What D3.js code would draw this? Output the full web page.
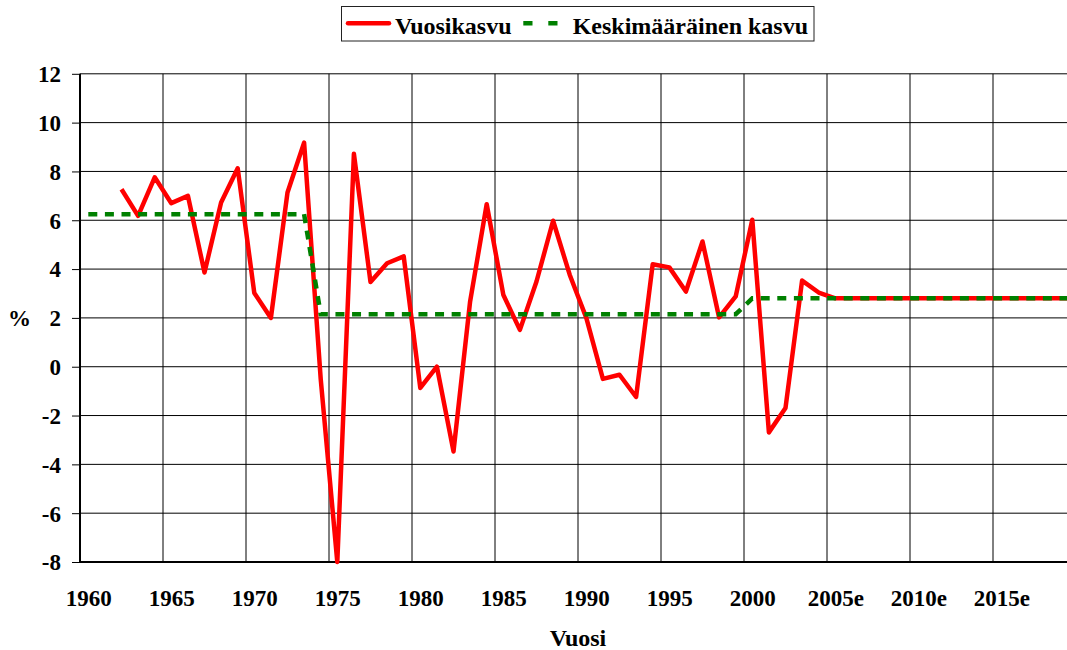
<!DOCTYPE html>
<html>
<head>
<meta charset="utf-8">
<script src="https://cdn.jsdelivr.net/npm/d3@7"></script>
<style>
  html, body { margin: 0; padding: 0; background: #fff; }
  svg { display: block; }
</style>
</head>
<body>
<svg id="chart" width="1067" height="650"></svg>
<script>
// ---- data ----
const growthYears = [1962,1963,1964,1965,1966,1967,1968,1969,1970,1971,1972,1973,1974,1975,1976,1977,1978,1979,
  1980,1981,1982,1983,1984,1985,1986,1987,1988,1989,1990,1991,1992,1993,1994,1995,1996,1997,1998,1999,
  2000,2001,2002,2003,2004,2005,2006,2007,2008,2009,2010,2011,2012,2013,2014,2015,2016,2017,2018,2019];
const growthValues = [7.27,6.18,7.76,6.70,7.00,3.86,6.73,8.13,3.02,2.00,7.14,9.18,-0.5,-8.0,8.72,3.47,4.24,4.52,
  -0.87,0.0,-3.47,2.67,6.66,2.95,1.51,3.49,5.98,3.77,2.0,-0.5,-0.33,-1.24,4.2,4.07,3.08,5.13,2.02,2.88,
  6.02,-2.69,-1.69,3.53,3.04,2.8,2.8,2.8,2.8,2.8,2.8,2.8,2.8,2.8,2.8,2.8,2.8,2.8,2.8,2.8];
const avgYears = [1960,1961,1962,1963,1964,1965,1966,1967,1968,1969,1970,1971,1972,1973,
  1974,1975,1976,1977,1978,1979,1980,1981,1982,1983,1984,1985,1986,1987,1988,1989,1990,1991,1992,1993,1994,1995,1996,1997,1998,1999,
  2000,2001,2002,2003,2004,2005,2006,2007,2008,2009,2010,2011,2012,2013,2014,2015,2016,2017,2018,2019];
const avgValues = [6.25,6.25,6.25,6.25,6.25,6.25,6.25,6.25,6.25,6.25,6.25,6.25,6.25,6.25,
  2.15,2.15,2.15,2.15,2.15,2.15,2.15,2.15,2.15,2.15,2.15,2.15,2.15,2.15,2.15,2.15,2.15,2.15,2.15,2.15,2.15,2.15,2.15,2.15,2.15,2.15,
  2.8,2.8,2.8,2.8,2.8,2.8,2.8,2.8,2.8,2.8,2.8,2.8,2.8,2.8,2.8,2.8,2.8,2.8,2.8,2.8];
const xTickYears = [1960,1965,1970,1975,1980,1985,1990,1995,2000,2005,2010,2015];
const xTickLabels = ["1960","1965","1970","1975","1980","1985","1990","1995","2000","2005e","2010e","2015e"];
const yTicks = [-8,-6,-4,-2,0,2,4,6,8,10,12];
const seriesNames = ["Vuosikasvu", "Keskimääräinen kasvu"];
const xTitle = "Vuosi";
const yTitle = "%";

// ---- layout ----
const FONT = "'Liberation Serif', 'DejaVu Serif', serif";
const svg = d3.select("#chart");
const pLeft = 80, pRight = 1076, pTop = 73.8, pBottom = 562;
const x = d3.scaleLinear().domain([1960, 2020]).range([pLeft, pRight]);
const y = d3.scaleLinear().domain([-8, 12]).range([pBottom, pTop]);
const cx = yr => x(yr + 0.5);

// horizontal gridlines
svg.append("g").selectAll("line").data(yTicks).join("line")
  .attr("x1", pLeft).attr("x2", pRight)
  .attr("y1", d => y(d)).attr("y2", d => y(d))
  .attr("stroke", "#000").attr("stroke-width", 1);

// vertical gridlines
svg.append("g").selectAll("line").data(xTickYears.slice(1)).join("line")
  .attr("x1", d => x(d)).attr("x2", d => x(d))
  .attr("y1", pTop).attr("y2", pBottom)
  .attr("stroke", "#000").attr("stroke-width", 1);

// y axis
const yAxis = svg.append("g").attr("transform", `translate(${pLeft},0)`)
  .call(d3.axisLeft(y).tickValues(yTicks).tickSize(8).tickPadding(11).tickFormat(d => String(d)));
yAxis.attr("font-family", null).attr("font-size", null);
yAxis.select(".domain").remove();
yAxis.selectAll(".tick line").attr("stroke", "#000").attr("stroke-width", 1);
yAxis.selectAll(".tick text")
  .style("font-family", FONT).style("font-weight", "bold").style("font-size", "23px")
  .attr("fill", "#000").attr("dy", "0.34em");

// x axis labels
const xAxis = svg.append("g").attr("transform", `translate(0,${pBottom})`)
  .call(d3.axisBottom(x).tickValues(xTickYears.map(d => d + 0.5)).tickSize(0).tickPadding(28)
    .tickFormat((d, i) => xTickLabels[i]));
xAxis.attr("font-family", null).attr("font-size", null);
xAxis.select(".domain").remove();
xAxis.selectAll(".tick text")
  .style("font-family", FONT).style("font-weight", "bold").style("font-size", "23px")
  .attr("fill", "#000");

// axis lines
svg.append("line").attr("x1", pLeft).attr("x2", pLeft).attr("y1", pTop).attr("y2", pBottom)
  .attr("stroke", "#000").attr("stroke-width", 2);
svg.append("line").attr("x1", pLeft - 1).attr("x2", pRight).attr("y1", pBottom).attr("y2", pBottom)
  .attr("stroke", "#000").attr("stroke-width", 2);

// series
const line = d3.line().x(d => cx(d[0])).y(d => y(d[1]));
svg.append("path")
  .datum(growthYears.map((yr, i) => [yr, growthValues[i]]))
  .attr("d", line).attr("fill", "none")
  .attr("stroke", "#ff0000").attr("stroke-width", 4.5)
  .attr("stroke-linejoin", "round");
svg.append("path")
  .datum(avgYears.map((yr, i) => [yr, avgValues[i]]))
  .attr("d", line).attr("fill", "none")
  .attr("stroke", "#008000").attr("stroke-width", 4.5)
  .attr("stroke-dasharray", "9,7.6");

function label(sel) {
  return sel.style("font-family", FONT).style("font-weight", "bold").attr("fill", "#000");
}

// titles
label(svg.append("text")).attr("x", 578).attr("y", 646).attr("text-anchor", "middle")
  .style("font-size", "24px").text(xTitle);
label(svg.append("text")).attr("x", 19.5).attr("y", 326).attr("text-anchor", "middle")
  .style("font-size", "23px").text(yTitle);

// legend
const lg = svg.append("g");
lg.append("rect").attr("x", 341.5).attr("y", 6.5).attr("width", 472.5).attr("height", 34.5)
  .attr("fill", "#fff").attr("stroke", "#222").attr("stroke-width", 1);
lg.append("line").attr("x1", 348).attr("x2", 389).attr("y1", 23.3).attr("y2", 23.3)
  .attr("stroke", "#ff0000").attr("stroke-width", 4.5).attr("stroke-linecap", "round");
label(lg.append("text")).attr("x", 395).attr("y", 34).style("font-size", "24px").text(seriesNames[0]);
lg.append("line").attr("x1", 523.3).attr("x2", 558).attr("y1", 23.3).attr("y2", 23.3)
  .attr("stroke", "#008000").attr("stroke-width", 4.5).attr("stroke-dasharray", "9.2,15.8");
label(lg.append("text")).attr("x", 572.7).attr("y", 34).style("font-size", "24px").text(seriesNames[1]);
</script>
</body>
</html>
